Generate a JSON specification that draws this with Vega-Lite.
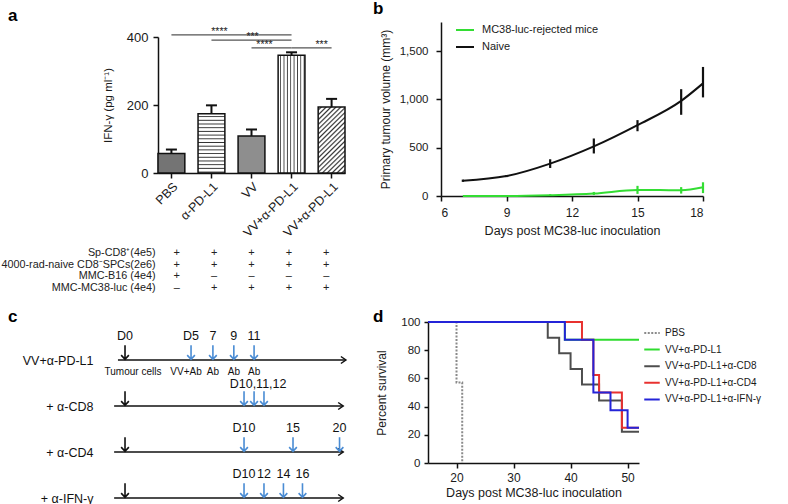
{
  "$schema": "https://vega.github.io/schema/vega-lite/v6.json",
  "usermeta": {"embedOptions": {"actions": false}},
  "padding": {"left": 0, "top": 0, "right": 0, "bottom": 0},
  "background": "white",
  "config": {
    "font": "Liberation Sans",
    "view": {"stroke": null},
    "axis": {"domainColor": "#111", "domainWidth": 1.5, "tickColor": "#111", "tickWidth": 1.5, "tickSize": 5, "labelColor": "#1a1a1a", "titleColor": "#1a1a1a", "labelFont": "Liberation Sans", "titleFont": "Liberation Sans", "labelFontSize": 12, "titleFontSize": 12, "titleFontWeight": "normal", "grid": false},
    "title": {"font": "Liberation Sans", "fontSize": 17, "fontWeight": "bold", "anchor": "start", "frame": "group", "color": "#000", "baseline": "alphabetic"},
    "legend": {"labelFont": "Liberation Sans", "labelColor": "#1a1a1a", "padding": 0}
  },
  "resolve": {"scale": {"color": "independent", "strokeDash": "independent"}, "legend": {"color": "independent", "strokeDash": "independent"}},
  "datasets": {
    "bars": [
      {"id": 1, "group": "PBS", "mean": 57, "hi": 69},
      {"id": 2, "group": "α-PD-L1", "mean": 174, "hi": 199},
      {"id": 3, "group": "VV", "mean": 109, "hi": 128},
      {"id": 4, "group": "VV+α-PD-L1", "mean": 346, "hi": 355},
      {"id": 5, "group": "VV+α-PD-L1\u200b", "mean": 194, "hi": 218}
    ],
    "sig": [
      {"id": 1, "from": "PBS", "to": "VV+α-PD-L1", "y": 406, "stars": "****", "at": "α-PD-L1"},
      {"id": 2, "from": "α-PD-L1", "to": "VV+α-PD-L1", "y": 391, "stars": "***", "at": "VV"},
      {"id": 3, "from": "VV", "to": "VV+α-PD-L1", "y": 368, "stars": "****", "at": "VV"},
      {"id": 4, "from": "VV+α-PD-L1", "to": "VV+α-PD-L1\u200b", "y": 368, "stars": "***", "at": "VV+α-PD-L1\u200b"}
    ],
    "timelines": [
      {"row": "VV+α-PD-L1", "start": -0.36, "end": 20.7},
      {"row": "+ α-CD8", "start": -0.6, "end": 20.4},
      {"row": "+ α-CD4", "start": -0.6, "end": 20.4},
      {"row": "+ α-IFN-γ", "start": -0.6, "end": 20.4}
    ],
    "daylabels": [
      {"row": "VV+α-PD-L1", "day": 0, "text": "D0"}, {"row": "VV+α-PD-L1", "day": 5, "text": "D5"}, {"row": "VV+α-PD-L1", "day": 7, "text": "7"}, {"row": "VV+α-PD-L1", "day": 9, "text": "9"}, {"row": "VV+α-PD-L1", "day": 11, "text": "11"},
      {"row": "+ α-CD8", "day": 11, "text": "D10,11,12"},
      {"row": "+ α-CD4", "day": 10, "text": "D10"}, {"row": "+ α-CD4", "day": 15, "text": "15"}, {"row": "+ α-CD4", "day": 20, "text": "20"},
      {"row": "+ α-IFN-γ", "day": 10, "text": "D10"}, {"row": "+ α-IFN-γ", "day": 12, "text": "12"}, {"row": "+ α-IFN-γ", "day": 14, "text": "14"}, {"row": "+ α-IFN-γ", "day": 16, "text": "16"}
    ],
    "events": [
      {"row": "VV+α-PD-L1", "day": 0, "text": "Tumour cells"}, {"row": "VV+α-PD-L1", "day": 5, "text": "VV+Ab"}, {"row": "VV+α-PD-L1", "day": 7, "text": "Ab"}, {"row": "VV+α-PD-L1", "day": 9, "text": "Ab"}, {"row": "VV+α-PD-L1", "day": 11, "text": "Ab"}
    ]
  },
  "concat": [
    {
      "vconcat": [
        {
          "width": 187,
          "height": 151,
          "title": {"text": "a", "dx": -150, "offset": -3},
          "data": {"name": "bars"},
          "encoding": {
            "x": {"field": "group", "type": "nominal", "scale": {"domain": ["PBS", "α-PD-L1", "VV", "VV+α-PD-L1", "VV+α-PD-L1\u200b"], "paddingInner": 0.33, "paddingOuter": 0}, "axis": {"title": null, "labelAngle": -45, "labelFontSize": 12.5, "labelPadding": 2}}
          },
          "layer": [
            {"mark": {"type": "rule", "stroke": "#111", "strokeWidth": 2}, "encoding": {"y": {"field": "mean", "type": "quantitative", "scale": {"domain": [0, 400], "range": [151, 15], "nice": false}, "axis": {"title": "IFN-γ (pg ml⁻¹)", "values": [0, 100, 200, 300, 400], "labelFontSize": 13, "titleFontSize": 11.5, "labelPadding": 5, "titlePadding": 13}}, "y2": {"field": "hi"}}},
            {"mark": {"type": "tick", "orient": "horizontal", "size": 11, "thickness": 2, "color": "#111", "opacity": 1}, "encoding": {"y": {"field": "hi", "type": "quantitative", "scale": {"domain": [0, 400], "range": [151, 15], "nice": false}}}},
            {"transform": [{"filter": "datum.id === 1"}], "mark": {"type": "bar", "fill": "#747474", "stroke": "#111", "strokeWidth": 1.5}, "encoding": {"y": {"field": "mean", "type": "quantitative", "scale": {"domain": [0, 400], "range": [151, 15], "nice": false}}}},
            {"transform": [{"filter": "datum.id === 2"}], "mark": {"type": "bar", "stroke": "#111", "strokeWidth": 1.5, "fill": {"gradient": "linear", "x1": 0, "y1": 0, "x2": 0, "y2": 1, "stops": [
              {"offset": 0, "color": "#fff"}, {"offset": 0.03, "color": "#fff"}, {"offset": 0.047, "color": "#333"},
              {"offset": 0.0625, "color": "#fff"}, {"offset": 0.0925, "color": "#fff"}, {"offset": 0.1095, "color": "#333"},
              {"offset": 0.125, "color": "#fff"}, {"offset": 0.155, "color": "#fff"}, {"offset": 0.172, "color": "#333"},
              {"offset": 0.1875, "color": "#fff"}, {"offset": 0.2175, "color": "#fff"}, {"offset": 0.2345, "color": "#333"},
              {"offset": 0.25, "color": "#fff"}, {"offset": 0.28, "color": "#fff"}, {"offset": 0.297, "color": "#333"},
              {"offset": 0.3125, "color": "#fff"}, {"offset": 0.3425, "color": "#fff"}, {"offset": 0.3595, "color": "#333"},
              {"offset": 0.375, "color": "#fff"}, {"offset": 0.405, "color": "#fff"}, {"offset": 0.422, "color": "#333"},
              {"offset": 0.4375, "color": "#fff"}, {"offset": 0.4675, "color": "#fff"}, {"offset": 0.4845, "color": "#333"},
              {"offset": 0.5, "color": "#fff"}, {"offset": 0.53, "color": "#fff"}, {"offset": 0.547, "color": "#333"},
              {"offset": 0.5625, "color": "#fff"}, {"offset": 0.5925, "color": "#fff"}, {"offset": 0.6095, "color": "#333"},
              {"offset": 0.625, "color": "#fff"}, {"offset": 0.655, "color": "#fff"}, {"offset": 0.672, "color": "#333"},
              {"offset": 0.6875, "color": "#fff"}, {"offset": 0.7175, "color": "#fff"}, {"offset": 0.7345, "color": "#333"},
              {"offset": 0.75, "color": "#fff"}, {"offset": 0.78, "color": "#fff"}, {"offset": 0.797, "color": "#333"},
              {"offset": 0.8125, "color": "#fff"}, {"offset": 0.8425, "color": "#fff"}, {"offset": 0.8595, "color": "#333"},
              {"offset": 0.875, "color": "#fff"}, {"offset": 0.905, "color": "#fff"}, {"offset": 0.922, "color": "#333"},
              {"offset": 0.9375, "color": "#fff"}, {"offset": 0.9675, "color": "#fff"}, {"offset": 0.9845, "color": "#333"},
              {"offset": 1, "color": "#fff"}]}}, "encoding": {"y": {"field": "mean", "type": "quantitative", "scale": {"domain": [0, 400], "range": [151, 15], "nice": false}}}},
            {"transform": [{"filter": "datum.id === 3"}], "mark": {"type": "bar", "fill": "#8e8e8e", "stroke": "#111", "strokeWidth": 1.5}, "encoding": {"y": {"field": "mean", "type": "quantitative", "scale": {"domain": [0, 400], "range": [151, 15], "nice": false}}}},
            {"transform": [{"filter": "datum.id === 4"}], "mark": {"type": "bar", "stroke": "#111", "strokeWidth": 1.5, "fill": {"gradient": "linear", "x1": 0, "y1": 0, "x2": 1, "y2": 0, "stops": [
              {"offset": 0, "color": "#fff"}, {"offset": 0.06, "color": "#fff"}, {"offset": 0.095, "color": "#333"},
              {"offset": 0.125, "color": "#fff"}, {"offset": 0.185, "color": "#fff"}, {"offset": 0.22, "color": "#333"},
              {"offset": 0.25, "color": "#fff"}, {"offset": 0.31, "color": "#fff"}, {"offset": 0.345, "color": "#333"},
              {"offset": 0.375, "color": "#fff"}, {"offset": 0.435, "color": "#fff"}, {"offset": 0.47, "color": "#333"},
              {"offset": 0.5, "color": "#fff"}, {"offset": 0.56, "color": "#fff"}, {"offset": 0.595, "color": "#333"},
              {"offset": 0.625, "color": "#fff"}, {"offset": 0.685, "color": "#fff"}, {"offset": 0.72, "color": "#333"},
              {"offset": 0.75, "color": "#fff"}, {"offset": 0.81, "color": "#fff"}, {"offset": 0.845, "color": "#333"},
              {"offset": 0.875, "color": "#fff"}, {"offset": 0.935, "color": "#fff"}, {"offset": 0.97, "color": "#333"},
              {"offset": 1, "color": "#fff"}]}}, "encoding": {"y": {"field": "mean", "type": "quantitative", "scale": {"domain": [0, 400], "range": [151, 15], "nice": false}}}},
            {"transform": [{"filter": "datum.id === 5"}], "mark": {"type": "bar", "stroke": "#111", "strokeWidth": 1.5, "fill": {"gradient": "linear", "x1": 0, "y1": 0, "x2": 1, "y2": 2.5, "stops": [
              {"offset": 0, "color": "#fff"}, {"offset": 0.008, "color": "#fff"}, {"offset": 0.016, "color": "#333"},
              {"offset": 0.025, "color": "#fff"}, {"offset": 0.033, "color": "#fff"}, {"offset": 0.041, "color": "#333"},
              {"offset": 0.05, "color": "#fff"}, {"offset": 0.058, "color": "#fff"}, {"offset": 0.066, "color": "#333"},
              {"offset": 0.075, "color": "#fff"}, {"offset": 0.083, "color": "#fff"}, {"offset": 0.091, "color": "#333"},
              {"offset": 0.1, "color": "#fff"}, {"offset": 0.108, "color": "#fff"}, {"offset": 0.116, "color": "#333"},
              {"offset": 0.125, "color": "#fff"}, {"offset": 0.133, "color": "#fff"}, {"offset": 0.141, "color": "#333"},
              {"offset": 0.15, "color": "#fff"}, {"offset": 0.158, "color": "#fff"}, {"offset": 0.166, "color": "#333"},
              {"offset": 0.175, "color": "#fff"}, {"offset": 0.183, "color": "#fff"}, {"offset": 0.191, "color": "#333"},
              {"offset": 0.2, "color": "#fff"}, {"offset": 0.208, "color": "#fff"}, {"offset": 0.216, "color": "#333"},
              {"offset": 0.225, "color": "#fff"}, {"offset": 0.233, "color": "#fff"}, {"offset": 0.241, "color": "#333"},
              {"offset": 0.25, "color": "#fff"}, {"offset": 0.258, "color": "#fff"}, {"offset": 0.266, "color": "#333"},
              {"offset": 0.275, "color": "#fff"}, {"offset": 0.283, "color": "#fff"}, {"offset": 0.291, "color": "#333"},
              {"offset": 0.3, "color": "#fff"}, {"offset": 0.308, "color": "#fff"}, {"offset": 0.316, "color": "#333"},
              {"offset": 0.325, "color": "#fff"}, {"offset": 0.333, "color": "#fff"}, {"offset": 0.341, "color": "#333"},
              {"offset": 0.35, "color": "#fff"}, {"offset": 0.358, "color": "#fff"}, {"offset": 0.366, "color": "#333"},
              {"offset": 0.375, "color": "#fff"}, {"offset": 0.383, "color": "#fff"}, {"offset": 0.391, "color": "#333"},
              {"offset": 0.4, "color": "#fff"}, {"offset": 0.408, "color": "#fff"}, {"offset": 0.416, "color": "#333"},
              {"offset": 0.425, "color": "#fff"}, {"offset": 0.433, "color": "#fff"}, {"offset": 0.441, "color": "#333"},
              {"offset": 0.45, "color": "#fff"}, {"offset": 0.458, "color": "#fff"}, {"offset": 0.466, "color": "#333"},
              {"offset": 0.475, "color": "#fff"}, {"offset": 0.483, "color": "#fff"}, {"offset": 0.491, "color": "#333"},
              {"offset": 0.5, "color": "#fff"}]}}, "encoding": {"y": {"field": "mean", "type": "quantitative", "scale": {"domain": [0, 400], "range": [151, 15], "nice": false}}}},
            {"data": {"name": "sig"}, "mark": {"type": "rule", "stroke": "#555", "strokeWidth": 1.3}, "encoding": {"x": {"field": "from", "type": "nominal"}, "x2": {"field": "to"}, "y": {"field": "y", "type": "quantitative", "scale": {"domain": [0, 400], "range": [151, 15], "nice": false}}}},
            {"data": {"name": "sig"}, "transform": [{"filter": "datum.id === 1"}], "mark": {"type": "text", "fontSize": 10.5, "baseline": "alphabetic", "dy": 0, "dx": 8, "color": "#222"}, "encoding": {"x": {"field": "at", "type": "nominal"}, "y": {"field": "y", "type": "quantitative", "scale": {"domain": [0, 400], "range": [151, 15], "nice": false}}, "text": {"field": "stars"}}},
            {"data": {"name": "sig"}, "transform": [{"filter": "datum.id === 2"}], "mark": {"type": "text", "fontSize": 10.5, "baseline": "alphabetic", "dy": 0, "dx": 1, "color": "#222"}, "encoding": {"x": {"field": "at", "type": "nominal"}, "y": {"field": "y", "type": "quantitative", "scale": {"domain": [0, 400], "range": [151, 15], "nice": false}}, "text": {"field": "stars"}}},
            {"data": {"name": "sig"}, "transform": [{"filter": "datum.id === 3"}], "mark": {"type": "text", "fontSize": 10.5, "baseline": "alphabetic", "dy": 0, "dx": 13, "color": "#222"}, "encoding": {"x": {"field": "at", "type": "nominal"}, "y": {"field": "y", "type": "quantitative", "scale": {"domain": [0, 400], "range": [151, 15], "nice": false}}, "text": {"field": "stars"}}},
            {"data": {"name": "sig"}, "transform": [{"filter": "datum.id === 4"}], "mark": {"type": "text", "fontSize": 10.5, "baseline": "alphabetic", "dy": 0, "dx": -10, "color": "#222"}, "encoding": {"x": {"field": "at", "type": "nominal"}, "y": {"field": "y", "type": "quantitative", "scale": {"domain": [0, 400], "range": [151, 15], "nice": false}}, "text": {"field": "stars"}}}
          ]
        },
        {
          "width": 187,
          "height": 47,
          "data": {"values": [
            {"group": "PBS", "cond": "Sp-CD8⁺(4e5)", "sign": "+"},
            {"group": "α-PD-L1", "cond": "Sp-CD8⁺(4e5)", "sign": "+"},
            {"group": "VV", "cond": "Sp-CD8⁺(4e5)", "sign": "+"},
            {"group": "VV+α-PD-L1", "cond": "Sp-CD8⁺(4e5)", "sign": "+"},
            {"group": "VV+α-PD-L1\u200b", "cond": "Sp-CD8⁺(4e5)", "sign": "+"},
            {"group": "PBS", "cond": "4000-rad-naive CD8⁻SPCs(2e6)", "sign": "+"},
            {"group": "α-PD-L1", "cond": "4000-rad-naive CD8⁻SPCs(2e6)", "sign": "+"},
            {"group": "VV", "cond": "4000-rad-naive CD8⁻SPCs(2e6)", "sign": "+"},
            {"group": "VV+α-PD-L1", "cond": "4000-rad-naive CD8⁻SPCs(2e6)", "sign": "+"},
            {"group": "VV+α-PD-L1\u200b", "cond": "4000-rad-naive CD8⁻SPCs(2e6)", "sign": "+"},
            {"group": "PBS", "cond": "MMC-B16 (4e4)", "sign": "+"},
            {"group": "α-PD-L1", "cond": "MMC-B16 (4e4)", "sign": "–"},
            {"group": "VV", "cond": "MMC-B16 (4e4)", "sign": "–"},
            {"group": "VV+α-PD-L1", "cond": "MMC-B16 (4e4)", "sign": "–"},
            {"group": "VV+α-PD-L1\u200b", "cond": "MMC-B16 (4e4)", "sign": "–"},
            {"group": "PBS", "cond": "MMC-MC38-luc (4e4)", "sign": "–"},
            {"group": "α-PD-L1", "cond": "MMC-MC38-luc (4e4)", "sign": "+"},
            {"group": "VV", "cond": "MMC-MC38-luc (4e4)", "sign": "+"},
            {"group": "VV+α-PD-L1", "cond": "MMC-MC38-luc (4e4)", "sign": "+"},
            {"group": "VV+α-PD-L1\u200b", "cond": "MMC-MC38-luc (4e4)", "sign": "+"}
          ]},
          "mark": {"type": "text", "fontSize": 11, "color": "#222"},
          "encoding": {
            "x": {"field": "group", "type": "nominal", "scale": {"domain": ["PBS", "α-PD-L1", "VV", "VV+α-PD-L1", "VV+α-PD-L1\u200b"], "paddingInner": 0.33, "paddingOuter": 0}, "axis": null},
            "y": {"field": "cond", "type": "nominal", "scale": {"type": "band", "domain": ["Sp-CD8⁺(4e5)", "4000-rad-naive CD8⁻SPCs(2e6)", "MMC-B16 (4e4)", "MMC-MC38-luc (4e4)"], "paddingInner": 0, "paddingOuter": 0}, "axis": {"title": null, "domain": false, "ticks": false, "tickSize": 0, "labelPadding": 3, "labelFontSize": 10.8, "labelColor": "#222"}},
            "text": {"field": "sign"}
          }
        }
      ],
      "spacing": 7
    },
    {
      "width": 262,
      "height": 174,
      "title": {"text": "b", "dx": -68, "offset": 2},
      "data": {"values": [
        {"group": "Naive", "day": 7, "mean": 158, "lo": 146, "hi": 170},
        {"group": "Naive", "day": 9, "mean": 206, "lo": 195, "hi": 217},
        {"group": "Naive", "day": 11, "mean": 335, "lo": 290, "hi": 380},
        {"group": "Naive", "day": 13, "mean": 513, "lo": 440, "hi": 595},
        {"group": "Naive", "day": 15, "mean": 733, "lo": 670, "hi": 785},
        {"group": "Naive", "day": 17, "mean": 984, "lo": 840, "hi": 1105},
        {"group": "Naive", "day": 18, "mean": 1165, "lo": 1020, "hi": 1335},
        {"group": "MC38-luc-rejected mice", "day": 7, "mean": 0, "lo": 0, "hi": 0},
        {"group": "MC38-luc-rejected mice", "day": 9, "mean": 0, "lo": 0, "hi": 0},
        {"group": "MC38-luc-rejected mice", "day": 11, "mean": 8, "lo": 0, "hi": 18},
        {"group": "MC38-luc-rejected mice", "day": 13, "mean": 25, "lo": 10, "hi": 42},
        {"group": "MC38-luc-rejected mice", "day": 15, "mean": 62, "lo": 22, "hi": 105},
        {"group": "MC38-luc-rejected mice", "day": 17, "mean": 60, "lo": 25, "hi": 92},
        {"group": "MC38-luc-rejected mice", "day": 18, "mean": 90, "lo": 30, "hi": 142}
      ]},
      "encoding": {
        "x": {"field": "day", "type": "quantitative", "scale": {"domain": [6, 18], "nice": false, "zero": false}, "axis": {"title": "Days post MC38-luc inoculation", "values": [6, 9, 12, 15, 18], "labelFontSize": 12, "titleFontSize": 12.5, "labelPadding": 6, "titlePadding": 6}},
        "color": {"field": "group", "type": "nominal", "scale": {"domain": ["MC38-luc-rejected mice", "Naive"], "range": ["#33dd33", "#111111"]}, "legend": {"title": null, "orient": "none", "legendX": 14, "legendY": -2, "symbolType": "stroke", "symbolStrokeWidth": 2, "symbolSize": 324, "labelFontSize": 11, "rowPadding": 2, "labelOffset": 7}}
      },
      "layer": [
        {"mark": {"type": "line", "strokeWidth": 2, "interpolate": "monotone"}, "encoding": {"y": {"field": "mean", "type": "quantitative", "scale": {"domain": [0, 1800], "nice": false}, "axis": {"title": "Primary tumour volume (mm³)", "values": [0, 500, 1000, 1500], "format": ",.0f", "formatType": "number", "labelFontSize": 11.5, "labelPadding": 8, "titlePadding": 7, "titleFontSize": 12}}}},
        {"mark": {"type": "rule", "strokeWidth": 2.2}, "encoding": {"y": {"field": "lo", "type": "quantitative", "scale": {"domain": [0, 1800], "nice": false}}, "y2": {"field": "hi"}}}
      ]
    },
    {
      "width": 187,
      "height": 138,
      "title": {"text": "c", "dx": -150, "offset": 4},
      "encoding": {
        "y": {"field": "row", "type": "nominal", "scale": {"type": "point", "domain": ["VV+α-PD-L1", "+ α-CD8", "+ α-CD4", "+ α-IFN-γ"], "padding": 0}, "axis": {"title": null, "domain": false, "ticks": false, "tickSize": 0, "labelPadding": 65, "labelFontSize": 12.5, "labelColor": "#111"}}
      },
      "layer": [
        {"data": {"name": "timelines"}, "mark": {"type": "rule", "stroke": "#111", "strokeWidth": 1.5}, "encoding": {"x": {"field": "start", "type": "quantitative", "scale": {"type": "pow", "exponent": 0.85, "domain": [2.21, 20.6], "nice": false, "zero": false}, "axis": null}, "x2": {"field": "end"}}},
        {"data": {"name": "timelines"}, "mark": {"type": "point", "shape": "M-1,-0.7L0,0L-1,0.7", "size": 100, "filled": false, "stroke": "#111", "strokeWidth": 1.5, "opacity": 1}, "encoding": {"x": {"field": "end", "type": "quantitative", "scale": {"type": "pow", "exponent": 0.85, "domain": [2.21, 20.6], "nice": false, "zero": false}, "axis": null}}},
        {"data": {"values": [
          {"row": "VV+α-PD-L1", "day": 0, "kind": "cells"}, {"row": "VV+α-PD-L1", "day": 5, "kind": "ab"}, {"row": "VV+α-PD-L1", "day": 7, "kind": "ab"}, {"row": "VV+α-PD-L1", "day": 9, "kind": "ab"}, {"row": "VV+α-PD-L1", "day": 11, "kind": "ab"},
          {"row": "+ α-CD8", "day": 0, "kind": "cells"}, {"row": "+ α-CD8", "day": 10, "kind": "ab"}, {"row": "+ α-CD8", "day": 11, "kind": "ab"}, {"row": "+ α-CD8", "day": 12, "kind": "ab"},
          {"row": "+ α-CD4", "day": 0, "kind": "cells"}, {"row": "+ α-CD4", "day": 10, "kind": "ab"}, {"row": "+ α-CD4", "day": 15, "kind": "ab"}, {"row": "+ α-CD4", "day": 20, "kind": "ab"},
          {"row": "+ α-IFN-γ", "day": 0, "kind": "cells"}, {"row": "+ α-IFN-γ", "day": 10, "kind": "ab"}, {"row": "+ α-IFN-γ", "day": 12, "kind": "ab"}, {"row": "+ α-IFN-γ", "day": 14, "kind": "ab"}, {"row": "+ α-IFN-γ", "day": 16, "kind": "ab"}
        ]}, "mark": {"type": "point", "shape": "M0,-2.1L0,-0.1M-0.55,-0.7L0,-0.1L0.55,-0.7", "size": 196, "filled": false, "strokeWidth": 1.6, "opacity": 1}, "encoding": {"x": {"field": "day", "type": "quantitative", "scale": {"type": "pow", "exponent": 0.85, "domain": [2.21, 20.6], "nice": false, "zero": false}, "axis": null}, "stroke": {"field": "kind", "type": "nominal", "scale": {"domain": ["cells", "ab"], "range": ["#111111", "#4a8cd4"]}, "legend": null}}},
        {"data": {"name": "daylabels"}, "transform": [{"filter": "datum.row !== '+ α-CD8'"}], "mark": {"type": "text", "fontSize": 12.5, "baseline": "middle", "dy": -24, "color": "#111"}, "encoding": {"x": {"field": "day", "type": "quantitative", "scale": {"type": "pow", "exponent": 0.85, "domain": [2.21, 20.6], "nice": false, "zero": false}, "axis": null}, "text": {"field": "text"}}},
        {"data": {"name": "daylabels"}, "transform": [{"filter": "datum.row === '+ α-CD8'"}], "mark": {"type": "text", "fontSize": 12.5, "baseline": "middle", "dy": -22, "dx": 4, "color": "#111"}, "encoding": {"x": {"field": "day", "type": "quantitative", "scale": {"type": "pow", "exponent": 0.85, "domain": [2.21, 20.6], "nice": false, "zero": false}, "axis": null}, "text": {"field": "text"}}},
        {"data": {"name": "events"}, "transform": [{"filter": "datum.text === 'Tumour cells'"}], "mark": {"type": "text", "fontSize": 10, "baseline": "middle", "dy": 12, "dx": 8, "color": "#111"}, "encoding": {"x": {"field": "day", "type": "quantitative", "scale": {"type": "pow", "exponent": 0.85, "domain": [2.21, 20.6], "nice": false, "zero": false}, "axis": null}, "text": {"field": "text"}}},
        {"data": {"name": "events"}, "transform": [{"filter": "datum.text === 'VV+Ab'"}], "mark": {"type": "text", "fontSize": 10, "baseline": "middle", "dy": 12, "dx": -5, "color": "#111"}, "encoding": {"x": {"field": "day", "type": "quantitative", "scale": {"type": "pow", "exponent": 0.85, "domain": [2.21, 20.6], "nice": false, "zero": false}, "axis": null}, "text": {"field": "text"}}},
        {"data": {"name": "events"}, "transform": [{"filter": "datum.text === 'Ab'"}], "mark": {"type": "text", "fontSize": 10, "baseline": "middle", "dy": 12, "dx": 0, "color": "#111"}, "encoding": {"x": {"field": "day", "type": "quantitative", "scale": {"type": "pow", "exponent": 0.85, "domain": [2.21, 20.6], "nice": false, "zero": false}, "axis": null}, "text": {"field": "text"}}}
      ]
    },
    {
      "width": 211,
      "height": 141,
      "title": {"text": "d", "dx": -55, "offset": -10},
      "data": {"values": [
        {"group": "PBS", "day": 15, "pct": 100}, {"group": "PBS", "day": 20, "pct": 57.1}, {"group": "PBS", "day": 21, "pct": 0},
        {"group": "VV+α-PD-L1", "day": 15, "pct": 100}, {"group": "VV+α-PD-L1", "day": 39, "pct": 87.5}, {"group": "VV+α-PD-L1", "day": 52, "pct": 87.5},
        {"group": "VV+α-PD-L1+α-CD8", "day": 15, "pct": 100}, {"group": "VV+α-PD-L1+α-CD8", "day": 36, "pct": 88.9}, {"group": "VV+α-PD-L1+α-CD8", "day": 38, "pct": 77.8}, {"group": "VV+α-PD-L1+α-CD8", "day": 40, "pct": 66.7}, {"group": "VV+α-PD-L1+α-CD8", "day": 42, "pct": 55.6}, {"group": "VV+α-PD-L1+α-CD8", "day": 45, "pct": 44.4}, {"group": "VV+α-PD-L1+α-CD8", "day": 49, "pct": 22.2}, {"group": "VV+α-PD-L1+α-CD8", "day": 52, "pct": 22.2},
        {"group": "VV+α-PD-L1+α-CD4", "day": 15, "pct": 100}, {"group": "VV+α-PD-L1+α-CD4", "day": 42, "pct": 87.5}, {"group": "VV+α-PD-L1+α-CD4", "day": 44, "pct": 62.5}, {"group": "VV+α-PD-L1+α-CD4", "day": 45, "pct": 50}, {"group": "VV+α-PD-L1+α-CD4", "day": 49, "pct": 25}, {"group": "VV+α-PD-L1+α-CD4", "day": 52, "pct": 25},
        {"group": "VV+α-PD-L1+α-IFN-γ", "day": 15, "pct": 100}, {"group": "VV+α-PD-L1+α-IFN-γ", "day": 39, "pct": 87.5}, {"group": "VV+α-PD-L1+α-IFN-γ", "day": 44, "pct": 50}, {"group": "VV+α-PD-L1+α-IFN-γ", "day": 47, "pct": 37.5}, {"group": "VV+α-PD-L1+α-IFN-γ", "day": 50, "pct": 25}, {"group": "VV+α-PD-L1+α-IFN-γ", "day": 52, "pct": 25}
      ]},
      "mark": {"type": "line", "interpolate": "step-after", "strokeWidth": 2},
      "encoding": {
        "x": {"field": "day", "type": "quantitative", "scale": {"domain": [15, 52], "nice": false, "zero": false}, "axis": {"title": "Days post MC38-luc inoculation", "values": [20, 30, 40, 50], "labelFontSize": 12, "titleFontSize": 12.5, "labelPadding": 4, "titlePadding": 3}},
        "y": {"field": "pct", "type": "quantitative", "scale": {"domain": [0, 100], "nice": false}, "axis": {"title": "Percent survival", "values": [0, 20, 40, 60, 80, 100], "labelFontSize": 11.5, "labelPadding": 4, "tickSize": 4, "titlePadding": 12}},
        "color": {"field": "group", "type": "nominal", "scale": {"domain": ["PBS", "VV+α-PD-L1", "VV+α-PD-L1+α-CD8", "VV+α-PD-L1+α-CD4", "VV+α-PD-L1+α-IFN-γ"], "range": ["#8a8a8a", "#2fdc2f", "#4d4d4d", "#e8312f", "#2424d8"]}, "legend": {"title": null, "orient": "none", "legendX": 215, "legendY": 2, "symbolType": "stroke", "symbolStrokeWidth": 2, "symbolSize": 240, "labelFontSize": 10, "rowPadding": 2.6, "labelOffset": 4}},
        "strokeDash": {"field": "group", "type": "nominal", "scale": {"domain": ["PBS", "VV+α-PD-L1", "VV+α-PD-L1+α-CD8", "VV+α-PD-L1+α-CD4", "VV+α-PD-L1+α-IFN-γ"], "range": [[2, 1.5], [1, 0], [1, 0], [1, 0], [1, 0]]}, "legend": {"title": null, "orient": "none", "legendX": 215, "legendY": 2, "symbolType": "stroke", "symbolStrokeWidth": 2, "symbolSize": 240, "labelFontSize": 10, "rowPadding": 2.6, "labelOffset": 4}}
      }
    }
  ],
  "columns": 2,
  "align": "none",
  "spacing": {"row": 14, "column": 24}
}
